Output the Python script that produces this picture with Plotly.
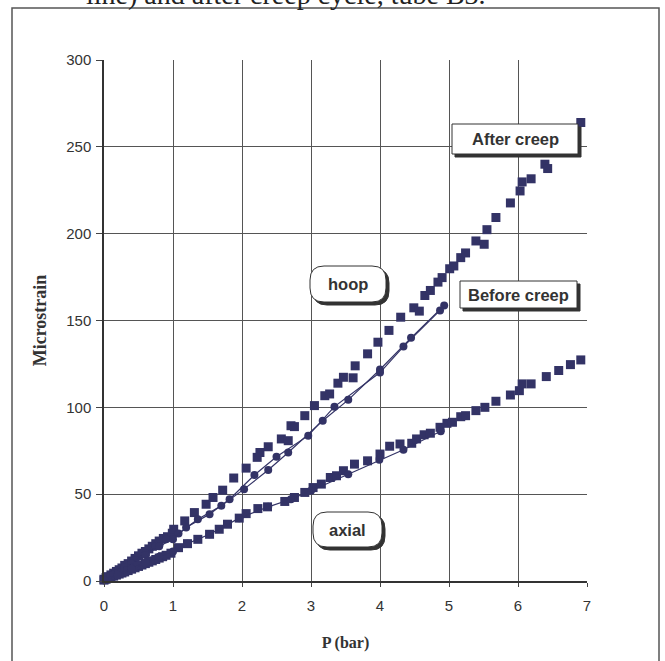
import plotly.graph_objects as go

# ---------------- data ----------------
hoop_after_x = [0.0, 0.03, 0.06, 0.1, 0.14, 0.18, 0.22, 0.26, 0.3, 0.35,
                0.4, 0.45, 0.5, 0.55, 0.6, 0.65, 0.7, 0.75, 0.8, 0.86,
                0.92, 0.99, 1.01, 1.17, 1.31, 1.48, 1.58, 1.72, 1.88, 2.06,
                2.22, 2.26, 2.38, 2.57, 2.67, 2.71, 2.76, 2.91, 3.05, 3.20,
                3.27, 3.39, 3.47, 3.61, 3.64, 3.82, 3.97, 4.13, 4.30, 4.49,
                4.57, 4.65, 4.73, 4.84, 4.90, 5.01, 5.07, 5.17, 5.24, 5.39,
                5.51, 5.55, 5.68, 5.89, 6.03, 6.06, 6.19, 6.39, 6.43, 6.91]
hoop_after_y = [1, 2, 2.5, 3.5, 4.5, 5.5, 6.5, 7.5, 9, 10,
                11.5, 13, 14.5, 16, 17, 18.5, 20, 21.5, 23, 24.5,
                25.5, 27.5, 29.8, 34.6, 39.4, 44.2, 48.1, 52.3, 59.3, 65.0,
                71.2, 74.0, 77.3, 81.8, 80.8, 89.4, 88.9, 95.2, 101, 106.7,
                107.7, 113.9, 117.3, 117, 123.9, 130.8, 137.5, 144.3, 151.9, 157.3,
                155.4, 164.4, 167.3, 172.1, 174.7, 179.8, 181.4, 186.2, 188.9, 195.8,
                193.9, 202.3, 209.3, 217.7, 224.6, 229.8, 231.6, 240, 237.5, 264]

hoop_before_load_x = [0, 0.15, 0.3, 0.45, 0.6, 0.75, 0.9, 1.08, 1.36, 1.70,
                      2.03, 2.38, 2.67, 3.17, 3.54, 4.00, 4.45, 4.93]
hoop_before_load_y = [0.5, 4, 8, 12, 16, 20, 24, 27.3, 35.6, 43.3,
                      52.9, 63.9, 74, 92.3, 104.3, 121.8, 140, 158.7]
hoop_before_unload_x = [0, 0.2, 0.4, 0.6, 0.8, 1.0, 1.19, 1.53, 1.82, 2.18,
                        2.50, 2.96, 3.34, 4.00, 4.34, 4.87]
hoop_before_unload_y = [0.5, 5, 10, 15, 20, 24, 30.8, 38.5, 47.1, 61,
                        71.5, 83.7, 100.4, 120, 135, 155.8]

axial_after_x = [0.0, 0.03, 0.06, 0.1, 0.14, 0.18, 0.22, 0.26, 0.3, 0.35,
                 0.4, 0.45, 0.5, 0.55, 0.6, 0.65, 0.7, 0.75, 0.8, 0.85,
                 0.9, 0.97, 1.08, 1.21, 1.36, 1.53, 1.67, 1.79, 1.96, 2.06,
                 2.23, 2.37, 2.62, 2.76, 2.91, 3.03, 3.15, 3.28, 3.37, 3.47,
                 3.63, 3.82, 4.00, 4.14, 4.29, 4.46, 4.53, 4.64, 4.73, 4.87,
                 4.97, 5.05, 5.17, 5.24, 5.39, 5.52, 5.68, 5.89, 6.02, 6.06,
                 6.19, 6.41, 6.59, 6.76, 6.91]
axial_after_y = [0.5, 1, 1.5, 2.2, 2.8, 3.4, 4, 4.6, 5.2, 6,
                 6.8, 7.6, 8.4, 9.2, 10, 10.8, 11.6, 12.4, 13.2, 14,
                 14.8, 16, 19.2, 21.5, 24, 26.9, 29.8, 32.7, 36.2, 38.8,
                 41.7, 42.7, 45.8, 48.1, 51, 53.8, 55.8, 59.6, 60.6, 63.5,
                 67.3, 69.2, 73.1, 77.6, 78.9, 79.3, 81.8, 84.2, 85.1, 88.5,
                 90.8, 91.4, 94.6, 95.2, 98.1, 100, 103.5, 107.1, 109.6, 113.5,
                 113.5, 117.7, 121.2, 124.6, 127.3]

axial_before_x = [0, 0.2, 0.4, 0.6, 0.8, 1.0, 1.21, 1.53, 1.96, 2.38,
                  2.71, 3.0, 3.54, 3.99, 4.34, 4.88]
axial_before_y = [0.5, 3.5, 7, 10.5, 14, 17, 21.5, 26.9, 36.2, 42.7,
                  47.1, 52, 61.5, 69.8, 75.6, 86.2]

x_ticks = [0, 1, 2, 3, 4, 5, 6, 7]
y_ticks = [0, 50, 100, 150, 200, 250, 300]

NAVY = "#333366"

fig = go.Figure()

def sq(x, y):
    fig.add_trace(go.Scatter(x=x, y=y, mode="markers",
                             marker=dict(symbol="square", size=9, color=NAVY),
                             showlegend=False, cliponaxis=False))

def circ(x, y):
    fig.add_trace(go.Scatter(x=x, y=y, mode="lines+markers",
                             line=dict(color=NAVY, width=1.2),
                             marker=dict(symbol="circle", size=8, color=NAVY),
                             showlegend=False, cliponaxis=False))

sq(hoop_after_x, hoop_after_y)
circ(hoop_before_load_x, hoop_before_load_y)
circ(hoop_before_unload_x, hoop_before_unload_y)
sq(axial_after_x, axial_after_y)
circ(axial_before_x, axial_before_y)

# ---------------- layout geometry (page pixels; body margin removed) ----------------
W, H = 665, 661
PAGE_X0, PAGE_X1 = 104, 587
PAGE_Y0, PAGE_Y1 = 60, 581
L = PAGE_X0
T = PAGE_Y0
PW = PAGE_X1 - PAGE_X0
PH = PAGE_Y1 - PAGE_Y0
R = W - L - PW
B = H - T - PH

def px(x):
    return (x - PAGE_X0) / PW

def py(y):
    return (PAGE_Y1 - y) / PH

shapes = []
# outer frame of the page image
shapes.append(dict(type="rect", xref="paper", yref="paper",
                   x0=px(12), x1=px(659), y0=py(700), y1=py(8),
                   line=dict(color="#555555", width=1.5), layer="below"))

def rect_box(x0, y0, x1, y1, rounded=False):
    r = 14 if rounded else 0
    for off, fill, col in ((3, "#333333", "#333333"), (0, "white", "#333333")):
        a0, b0, a1, b1 = x0 + off, y0 + off, x1 + off, y1 + off
        if r:
            rx, ry = r / PW, r / PH
            X0, X1, Y0, Y1 = px(a0), px(a1), py(b1), py(b0)
            path = (f"M {X0+rx},{Y0} L {X1-rx},{Y0} Q {X1},{Y0} {X1},{Y0+ry} "
                    f"L {X1},{Y1-ry} Q {X1},{Y1} {X1-rx},{Y1} "
                    f"L {X0+rx},{Y1} Q {X0},{Y1} {X0},{Y1-ry} "
                    f"L {X0},{Y0+ry} Q {X0},{Y0} {X0+rx},{Y0} Z")
            shapes.append(dict(type="path", xref="paper", yref="paper", path=path,
                               fillcolor=fill, line=dict(color=col, width=1), layer="above"))
        else:
            shapes.append(dict(type="rect", xref="paper", yref="paper",
                               x0=px(a0), x1=px(a1), y0=py(b1), y1=py(b0),
                               fillcolor=fill, line=dict(color=col, width=1), layer="above"))

boxes = [
    ("After creep", 452, 124, 578, 154, False),
    ("hoop", 310, 266, 386, 302, True),
    ("Before creep", 460, 281, 577, 308, False),
    ("axial", 313, 512, 382, 547, True),
]
annotations = []
for text, x0, y0, x1, y1, rnd in boxes:
    rect_box(x0, y0, x1, y1, rnd)
    annotations.append(dict(text=f"<b>{text}</b>", xref="paper", yref="paper",
                            x=px((x0 + x1) / 2), y=py((y0 + y1) / 2),
                            showarrow=False, xanchor="center", yanchor="middle",
                            font=dict(family="Liberation Sans, Arial", size=16.5, color="#333333")))

# cut-off caption above the frame
annotations.append(dict(text="line) and after creep cycle, tube B3.", xref="paper", yref="paper",
                        x=px(84), y=py(-6), showarrow=False, xanchor="left", yanchor="middle",
                        font=dict(family="Liberation Serif, Times New Roman", size=28, color="#222222")))

fig.update_layout(
    width=W, height=H,
    margin=dict(l=L, r=R, t=T, b=B),
    paper_bgcolor="white", plot_bgcolor="white",
    shapes=shapes, annotations=annotations,
    font=dict(family="Liberation Sans, Arial", size=15, color="#333333"),
)
fig.update_xaxes(range=[0, 7], tickvals=x_ticks, ticks="outside", ticklen=4,
                 tickcolor="#444444", showgrid=True, gridcolor="#555555", gridwidth=1,
                 showline=True, linecolor="#333333", linewidth=1.5, zeroline=False,
                 automargin=False,
                 tickfont=dict(size=15, color="#333333"), ticklabelstandoff=6,
                 title=dict(text="<b>P (bar)</b>", standoff=24,
                            font=dict(family="Liberation Serif, Times New Roman", size=16, color="#333333")))
fig.update_yaxes(range=[0, 300], tickvals=y_ticks, ticks="outside", ticklen=6,
                 tickcolor="#444444", showgrid=True, gridcolor="#555555", gridwidth=1,
                 showline=True, linecolor="#333333", linewidth=1.5, zeroline=False,
                 automargin=False,
                 tickfont=dict(size=15, color="#333333"), ticklabelstandoff=2,
                 title=dict(text="<b>Microstrain</b>", standoff=15,
                            font=dict(family="Liberation Serif, Times New Roman", size=18, color="#333333")))

fig.write_html("out.html", config={"displayModeBar": False},
               post_script="document.body.style.margin='0';document.body.style.overflow='hidden';")
